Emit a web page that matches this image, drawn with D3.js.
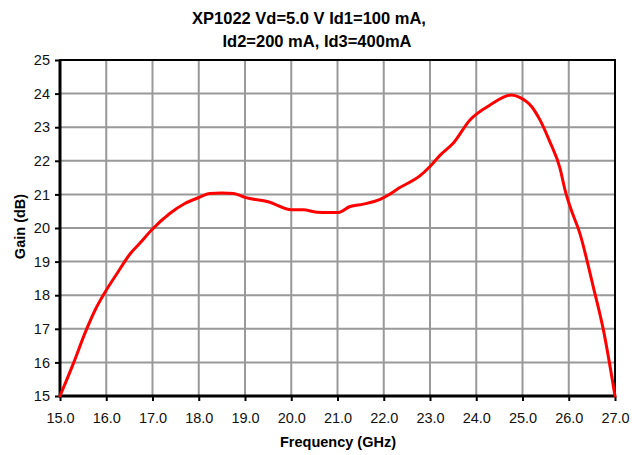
<!DOCTYPE html>
<html><head><meta charset="utf-8">
<script src="https://cdn.jsdelivr.net/npm/d3@7"></script>
<style>body{margin:0;background:#fff}svg{display:block}</style>
</head><body>
<svg id="c" width="632" height="455"></svg>
<script>
const titleLines = ["XP1022 Vd=5.0 V Id1=100 mA,", "Id2=200 mA, Id3=400mA"];
const xLabel = "Frequency (GHz)";
const yLabel = "Gain (dB)";
const xTicks = [15,16,17,18,19,20,21,22,23,24,25,26,27];
const yTicks = [15,16,17,18,19,20,21,22,23,24,25];
const freq = [15.0,15.29,15.54,15.76,15.97,16.23,16.51,16.73,16.98,17.38,17.7,17.99,18.24,18.5,18.75,19.0,19.5,20.01,20.26,20.55,20.84,21.02,21.27,21.56,21.92,22.1,22.32,22.78,23.0,23.22,23.5,23.86,24.3,24.76,24.94,25.2,25.38,25.59,25.81,25.92,26.03,26.24,26.53,26.75,27.0];
const gain = [15.0,15.97,16.87,17.56,18.08,18.64,19.22,19.55,19.94,20.44,20.73,20.9,21.03,21.04,21.03,20.91,20.78,20.54,20.54,20.47,20.46,20.46,20.64,20.71,20.85,20.98,21.18,21.55,21.83,22.17,22.52,23.21,23.66,23.96,23.89,23.61,23.21,22.57,21.78,21.13,20.63,19.84,18.25,16.96,15.0];

const svg = d3.select("#c");
const L = 60, R = 615, T = 60, B = 396;
const x = d3.scaleLinear().domain([15,27]).range([L,R]);
const y = d3.scaleLinear().domain([15,25]).range([B,T]);
const font = "'Liberation Sans', Arial, sans-serif";

// gridlines
svg.append("g").selectAll("line").data(xTicks.slice(1,-1)).join("line")
  .attr("x1", d=>x(d)).attr("x2", d=>x(d)).attr("y1", T).attr("y2", B)
  .attr("stroke", "#999").attr("stroke-width", 2);
svg.append("g").selectAll("line").data(yTicks.slice(1,-1)).join("line")
  .attr("x1", L).attr("x2", R).attr("y1", d=>y(d)).attr("y2", d=>y(d))
  .attr("stroke", "#999").attr("stroke-width", 2);

// frame
svg.append("rect").attr("x", L).attr("y", T).attr("width", R-L).attr("height", B-T)
  .attr("fill", "none").attr("stroke", "#000").attr("stroke-width", 2);
svg.append("line").attr("x1", L).attr("x2", L).attr("y1", T).attr("y2", B+1).attr("stroke","#000").attr("stroke-width",3);
svg.append("line").attr("x1", L-1).attr("x2", R+1).attr("y1", B).attr("y2", B).attr("stroke","#000").attr("stroke-width",3);

// axes
const xa = svg.append("g").attr("transform", `translate(0,${B})`)
  .call(d3.axisBottom(x).tickValues(xTicks).tickFormat(d3.format(".1f")).tickSize(5).tickPadding(12));
const ya = svg.append("g").attr("transform", `translate(${L},0)`)
  .call(d3.axisLeft(y).tickValues(yTicks).tickFormat(d3.format("d")).tickSize(5).tickPadding(5));
[xa, ya].forEach(a => {
  a.select(".domain").remove();
  a.selectAll(".tick line").attr("stroke", "#000").attr("stroke-width", 2);
  a.selectAll("text").attr("font-family", font).attr("font-size", 14.5).attr("fill", "#111");
});

// curve
const line = d3.line().x((d,i)=>x(freq[i])).y(d=>y(d)).curve(d3.curveMonotoneX);
svg.append("path").datum(gain).attr("d", line)
  .attr("fill", "none").attr("stroke", "#ff0000").attr("stroke-width", 3)
  .attr("stroke-linejoin", "round").attr("stroke-linecap", "round");

// title
const titleX = [309, 317], titleY = [24, 47];
svg.append("g").selectAll("text").data(titleLines).join("text")
  .attr("x", (d,i)=>titleX[i]).attr("y", (d,i)=>titleY[i]).attr("text-anchor","middle")
  .attr("font-family", font).attr("font-size", 16.5).attr("font-weight","bold").attr("fill","#000")
  .text(d=>d);

svg.append("text").attr("x", 338).attr("y", 447).attr("text-anchor","middle")
  .attr("font-family", font).attr("font-size", 14.5).attr("font-weight","bold").text(xLabel);
svg.append("text").attr("transform", `translate(25,226.5) rotate(-90)`).attr("text-anchor","middle")
  .attr("font-family", font).attr("font-size", 14.5).attr("font-weight","bold").text(yLabel);
</script>
</body></html>
